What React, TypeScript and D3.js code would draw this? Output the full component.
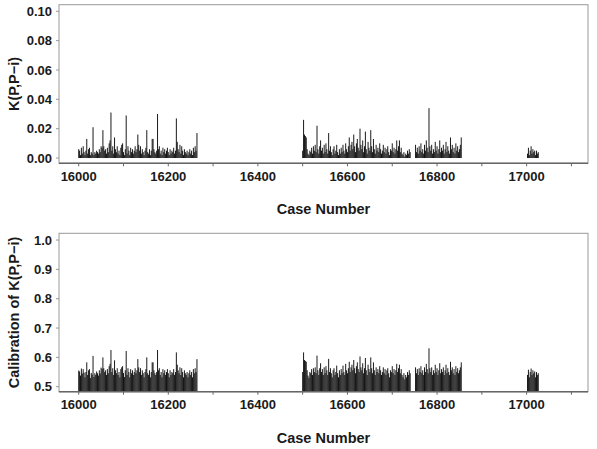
import { useEffect, useRef } from "react";
import * as d3 from "d3";

// case numbers are sampled every 2 cases, one value per sample
const segmentStarts = [16000, 16500, 16752, 17002];
const caseStep = 2;

// K(P,P-i), in thousandths
const kSegA = [
  6, 5, 2, 7, 3, 8, 4, 2, 5, 13, 3, 6, 7, 2, 4, 3, 21, 2, 4, 3, 5, 4, 3, 6, 4, 8, 7, 19, 8, 5,
  6, 3, 7, 4, 10, 12, 31, 5, 8, 3, 14, 6, 4, 8, 3, 5, 2, 7, 9, 10, 4, 2, 6, 29, 3, 8, 5, 2, 7, 4,
  6, 3, 5, 8, 4, 6, 16, 9, 5, 8, 3, 6, 4, 2, 5, 7, 19, 4, 3, 6, 2, 5, 13, 13, 6, 4, 3, 5, 30, 6,
  8, 3, 5, 2, 7, 4, 6, 3, 5, 7, 4, 2, 6, 3, 5, 4, 7, 3, 5, 27, 11, 6, 4, 9, 3, 8, 5, 2, 6, 4,
  3, 5, 2, 4, 6, 3, 5, 2, 7, 4, 8, 5, 17,
];
const kSegB = [
  5, 26, 16, 15, 14, 6, 3, 2, 5, 4, 7, 3, 8, 5, 9, 4, 22, 6, 3, 8, 12, 5, 7, 3, 9, 4, 10, 6, 3, 17,
  5, 8, 4, 2, 6, 8, 3, 5, 9, 4, 2, 6, 3, 7, 4, 9, 5, 3, 10, 6, 4, 8, 14, 5, 9, 11, 6, 16, 8, 4,
  10, 13, 7, 5, 20, 9, 6, 12, 4, 8, 18, 6, 3, 11, 7, 5, 19, 8, 4, 13, 6, 3, 9, 5, 7, 4, 10, 6, 3, 5,
  9, 4, 7, 3, 6, 8, 4, 2, 6, 5, 10, 4, 7, 3, 6, 12, 5, 8, 12, 4, 7, 3, 2, 4, 1, 3, 2, 5, 3, 6,
  4,
];
const kSegC = [
  9, 4, 7, 3, 8, 5, 10, 4, 6, 3, 9, 5, 12, 7, 4, 34, 8, 5, 9, 3, 6, 4, 11, 5, 8, 3, 6, 12, 4, 7,
  5, 9, 3, 6, 11, 4, 8, 5, 3, 14, 6, 9, 4, 7, 3, 10, 5, 8, 4, 6, 9, 14,
];
const kSegD = [3, 7, 2, 5, 8, 3, 6, 4, 5, 2, 5, 3, 4];

// calibration of K(P,P-i)
const calSegA = [
  0.555, 0.552, 0.538, 0.562, 0.545, 0.56, 0.548, 0.532, 0.55, 0.583, 0.54, 0.556, 0.56, 0.53, 0.547,
  0.541, 0.605, 0.533, 0.546, 0.54, 0.552, 0.546, 0.538, 0.556, 0.545, 0.565, 0.561, 0.6, 0.563, 0.55,
  0.556, 0.54, 0.56, 0.546, 0.57, 0.578, 0.625, 0.55, 0.563, 0.54, 0.59, 0.556, 0.546, 0.563, 0.54,
  0.55, 0.532, 0.56, 0.566, 0.57, 0.547, 0.533, 0.556, 0.622, 0.54, 0.563, 0.55, 0.532, 0.56, 0.546,
  0.556, 0.54, 0.55, 0.563, 0.546, 0.556, 0.594, 0.566, 0.55, 0.563, 0.54, 0.556, 0.546, 0.532, 0.55,
  0.56, 0.6, 0.546, 0.54, 0.556, 0.532, 0.55, 0.583, 0.583, 0.556, 0.546, 0.54, 0.55, 0.625, 0.556,
  0.563, 0.54, 0.55, 0.532, 0.56, 0.546, 0.556, 0.54, 0.55, 0.56, 0.546, 0.532, 0.556, 0.54, 0.55,
  0.546, 0.56, 0.54, 0.55, 0.617, 0.575, 0.556, 0.546, 0.566, 0.54, 0.563, 0.55, 0.532, 0.556, 0.546,
  0.54, 0.55, 0.532, 0.546, 0.556, 0.54, 0.55, 0.532, 0.56, 0.546, 0.563, 0.55, 0.594,
];
const calSegB = [
  0.55, 0.617, 0.591, 0.588, 0.585, 0.556, 0.538, 0.53, 0.55, 0.546, 0.56, 0.54, 0.563, 0.55, 0.566,
  0.546, 0.606, 0.556, 0.54, 0.563, 0.58, 0.55, 0.56, 0.54, 0.566, 0.546, 0.57, 0.556, 0.54, 0.595,
  0.55, 0.563, 0.546, 0.532, 0.556, 0.563, 0.54, 0.55, 0.572, 0.546, 0.532, 0.556, 0.54, 0.56, 0.546,
  0.572, 0.55, 0.54, 0.578, 0.556, 0.546, 0.563, 0.585, 0.55, 0.566, 0.575, 0.556, 0.591, 0.563, 0.546,
  0.57, 0.583, 0.56, 0.55, 0.603, 0.566, 0.556, 0.58, 0.546, 0.563, 0.598, 0.556, 0.54, 0.575, 0.56,
  0.55, 0.6, 0.563, 0.546, 0.583, 0.556, 0.54, 0.566, 0.55, 0.56, 0.546, 0.57, 0.556, 0.54, 0.55,
  0.566, 0.546, 0.56, 0.54, 0.556, 0.563, 0.546, 0.532, 0.556, 0.55, 0.57, 0.546, 0.56, 0.54, 0.556,
  0.578, 0.55, 0.563, 0.575, 0.546, 0.56, 0.54, 0.532, 0.546, 0.525, 0.54, 0.532, 0.55, 0.54, 0.556,
  0.546,
];
const calSegC = [
  0.566, 0.546, 0.56, 0.54, 0.563, 0.55, 0.57, 0.546, 0.556, 0.54, 0.566, 0.55, 0.578, 0.56, 0.546,
  0.631, 0.563, 0.55, 0.566, 0.54, 0.556, 0.546, 0.575, 0.55, 0.563, 0.54, 0.556, 0.58, 0.546, 0.56,
  0.55, 0.566, 0.54, 0.556, 0.575, 0.546, 0.563, 0.55, 0.54, 0.585, 0.556, 0.566, 0.546, 0.56, 0.54,
  0.57, 0.55, 0.563, 0.546, 0.556, 0.566, 0.583,
];
const calSegD = [0.54, 0.558, 0.532, 0.55, 0.562, 0.54, 0.556, 0.546, 0.552, 0.532, 0.55, 0.54, 0.546];

const kTicks = [0, 0.02, 0.04, 0.06, 0.08, 0.1];
const calTicks = [0.5, 0.6, 0.7, 0.8, 0.9, 1.0];
const caseTicks = d3.range(16000, 17101, 100);
const caseLabels = [16000, 16200, 16400, 16600, 16800, 17000];

const font = "'Liberation Sans', Arial, sans-serif";

function toPoints(segments: number[][], scale: number) {
  const pts: { c: number; v: number }[] = [];
  segments.forEach((seg, s) => {
    seg.forEach((v, i) => pts.push({ c: segmentStarts[s] + i * caseStep, v: v * scale }));
  });
  return pts;
}

export default function App() {
  const ref = useRef<SVGSVGElement>(null);

  useEffect(() => {
    const svg = d3.select(ref.current);
    svg.selectAll("*").remove();

    const left = 59;
    const right = 588;
    const x = d3.scaleLinear().domain([15956, 17137]).range([left, right]);

    const panels = [
      {
        top: 4.7,
        bottom: 163.3,
        domain: [-0.0036, 0.1045],
        base: 0,
        ticks: kTicks,
        fmt: d3.format(".2f"),
        title: "K(P,P\u2212i)",
        points: toPoints([kSegA, kSegB, kSegC, kSegD], 0.001),
      },
      {
        top: 233.3,
        bottom: 391.7,
        domain: [0.483, 1.023],
        base: 0.483,
        ticks: calTicks,
        fmt: d3.format(".1f"),
        title: "Calibration of K(P,P\u2212i)",
        points: toPoints([calSegA, calSegB, calSegC, calSegD], 1),
      },
    ];

    panels.forEach((p) => {
      const y = d3.scaleLinear().domain(p.domain).range([p.bottom, p.top]);
      const g = svg.append("g");

      // frame
      g.append("rect")
        .attr("x", left)
        .attr("y", p.top)
        .attr("width", right - left)
        .attr("height", p.bottom - p.top)
        .attr("fill", "none")
        .attr("stroke", "#999")
        .attr("stroke-width", 1);

      // spikes
      g.append("g")
        .selectAll("line")
        .data(p.points)
        .join("line")
        .attr("x1", (d) => x(d.c))
        .attr("x2", (d) => x(d.c))
        .attr("y1", y(p.base))
        .attr("y2", (d) => y(d.v))
        .attr("stroke", "#000")
        .attr("stroke-width", 0.9);

      // x axis line
      g.append("line")
        .attr("x1", left)
        .attr("x2", right)
        .attr("y1", p.bottom)
        .attr("y2", p.bottom)
        .attr("stroke", "#666")
        .attr("stroke-width", 1.5);

      g.append("g")
        .selectAll("line")
        .data(caseTicks)
        .join("line")
        .attr("x1", (d) => x(d))
        .attr("x2", (d) => x(d))
        .attr("y1", p.bottom)
        .attr("y2", p.bottom + 3)
        .attr("stroke", "#666");

      g.append("g")
        .selectAll("text")
        .data(caseLabels)
        .join("text")
        .attr("x", (d) => x(d))
        .attr("y", p.bottom + 17.5)
        .attr("text-anchor", "middle")
        .attr("font-family", font)
        .attr("font-weight", "bold")
        .attr("font-size", 13)
        .attr("fill", "#1a1a1a")
        .text((d) => d);

      // y ticks
      g.append("g")
        .selectAll("line")
        .data(p.ticks)
        .join("line")
        .attr("x1", left - 3)
        .attr("x2", left)
        .attr("y1", (d) => y(d))
        .attr("y2", (d) => y(d))
        .attr("stroke", "#999");

      g.append("g")
        .selectAll("text")
        .data(p.ticks)
        .join("text")
        .attr("x", left - 7)
        .attr("y", (d) => y(d))
        .attr("dy", "0.36em")
        .attr("text-anchor", "end")
        .attr("font-family", font)
        .attr("font-weight", "bold")
        .attr("font-size", 13)
        .attr("fill", "#1a1a1a")
        .text((d) => p.fmt(d));

      g.append("text")
        .attr("x", (left + right) / 2)
        .attr("y", p.bottom + 51)
        .attr("text-anchor", "middle")
        .attr("font-family", font)
        .attr("font-weight", "bold")
        .attr("font-size", 14.5)
        .attr("fill", "#1a1a1a")
        .text("Case Number");

      g.append("text")
        .attr("transform", `translate(14,${(p.top + p.bottom) / 2}) rotate(-90)`)
        .attr("dy", "0.36em")
        .attr("text-anchor", "middle")
        .attr("font-family", font)
        .attr("font-weight", "bold")
        .attr("font-size", 14.5)
        .attr("fill", "#1a1a1a")
        .text(p.title);
    });
  }, []);

  return (
    <svg
      ref={ref}
      width={597}
      height={449}
      style={{ position: "absolute", left: 0, top: 0, background: "#fff" }}
    />
  );
}
